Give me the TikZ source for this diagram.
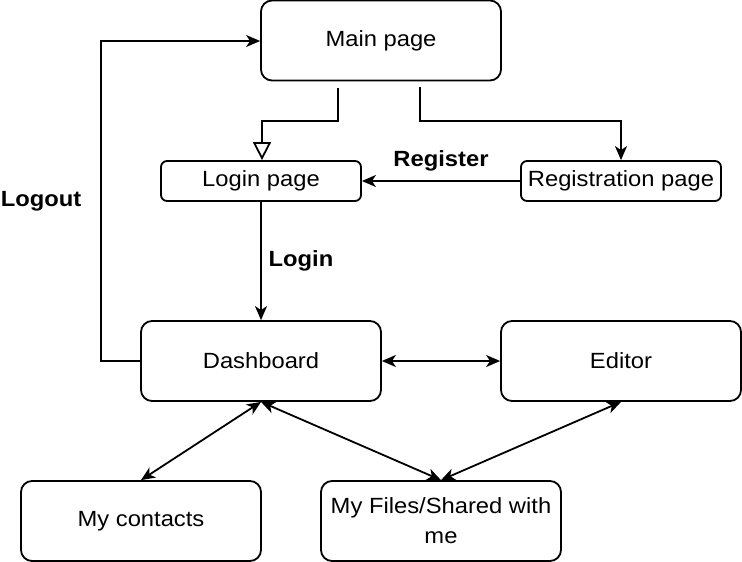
\documentclass[tikz,border=0pt]{standalone}
\usepackage{fontspec}
\setmainfont[FakeStretch=1.08]{Liberation Sans}
\usetikzlibrary{arrows.meta}
\begin{document}
\begin{tikzpicture}[x=1pt,y=-1pt,
  box/.style={draw, line width=1.8pt, rounded corners=11pt, minimum width=240pt, minimum height=80pt, inner sep=0pt, align=center, font=\fontsize{22}{30}\selectfont},
  sbox/.style={draw, line width=1.8pt, rounded corners=6pt, minimum width=200pt, minimum height=40pt, inner sep=0pt, align=center, font=\fontsize{22}{30}\selectfont},
  conn/.style={line width=1.8pt, -{Stealth[length=14pt,width=12pt,inset=4pt]}},
  biconn/.style={line width=1.8pt, {Stealth[length=14pt,width=12pt,inset=4pt]}-{Stealth[length=14pt,width=12pt,inset=4pt]}},
  lbl/.style={font=\fontsize{22}{24}\selectfont\bfseries, inner sep=0pt}
]
\useasboundingbox (0,0) rectangle (742,562);
\node[box] (main) at (381,40.5) {Main page};
\node[sbox] (login) at (261,181) {Login page};
\node[sbox] (reg) at (621,181) {Registration page};
\node[box] (dash) at (261,361) {Dashboard};
\node[box] (edit) at (621,361) {Editor};
\node[box] (contacts) at (141,521) {My contacts};
\node[box] (files) at (441,521) {My Files/Shared with\\ me};
\coordinate (m1) at (338,88);
\coordinate (m2) at (420,87);
\draw[line width=1.8pt, -{Triangle[open,length=18pt,width=18pt]}] (m1) -- (338,121) -- (262,121) -- (login.north -| 262,0);
\draw[conn] (m2) -- (420,121) -- (621,121) -- (reg.north);
\draw[conn] (reg.west) -- (login.east);
\node[lbl] (reglbl) at (441,161) {Register};
\draw[conn] (login.south) -- (dash.north);
\node[lbl] (loginlbl) at (301,261) {Login};
\draw[conn] (dash.west) -- (101,361) -- (101,41) -- (main.west |- 0,41);
\node[lbl] (logoutlbl) at (41,201) {Logout};
\draw[biconn] (dash.east) -- (edit.west);
\draw[biconn] (dash.south) -- (contacts.north);
\draw[biconn] (dash.south) -- (files.north);
\draw[biconn] (edit.south) -- (files.north);
\end{tikzpicture}
\end{document}
